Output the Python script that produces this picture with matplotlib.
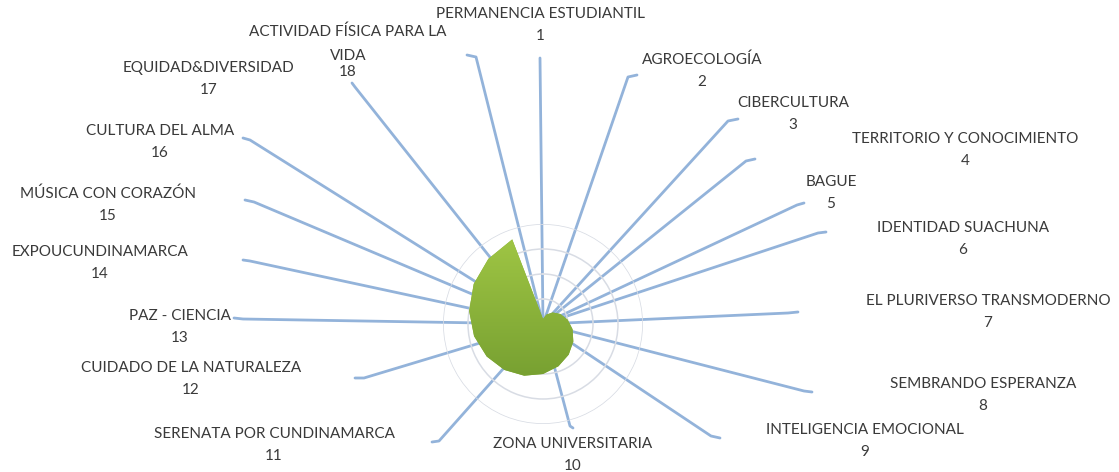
import numpy as np
import matplotlib
matplotlib.use("Agg")
import matplotlib.pyplot as plt
from matplotlib.colors import LinearSegmentedColormap

# categorias del radar, en el orden de las agujas del reloj desde arriba
categorias = [
    "PERMANENCIA ESTUDIANTIL", "AGROECOLOGÍA", "CIBERCULTURA",
    "TERRITORIO Y CONOCIMIENTO", "BAGUE", "IDENTIDAD SUACHUNA",
    "EL PLURIVERSO TRANSMODERNO", "SEMBRANDO ESPERANZA",
    "INTELIGENCIA EMOCIONAL", "ZONA UNIVERSITARIA",
    "SERENATA POR CUNDINAMARCA", "CUIDADO DE LA NATURALEZA",
    "PAZ - CIENCIA", "EXPOUCUNDINAMARCA", "MÚSICA CON CORAZÓN",
    "CULTURA DEL ALMA", "EQUIDAD&DIVERSIDAD",
    "ACTIVIDAD FÍSICA PARA LA\nVIDA",
]
numeros = ["1", "2", "3", "4", "5", "6", "7", "8", "9",
           "10", "11", "12", "13", "14", "15", "16", "17", "18"]
valores = [1, 2, 3, 4, 5, 6, 7, 8, 9, 10, 11, 12, 13, 14, 15, 16, 17, 18]
radio_max = 20
anillos = [5, 10, 15, 20]

# layout (pixels, y from the top of the image)
W, H = 1119, 472
centro = (543, 324)
radio_px = 100
pos_nombre = [
    (540, 14), (702, 60), (793, 103), (965, 139), (831, 182), (963, 228),
    (988, 301), (983, 384), (865, 430), (573, 444), (274, 434), (191, 368),
    (180, 316), (100, 252), (108, 194), (160, 131), (209, 68), (348, 32),
]
fin_linea = [
    (540, 58), (628, 77), (728, 121), (746, 161), (797, 205), (818, 233),
    (788, 313), (804, 391), (711, 436), (570, 426), (439, 441), (364, 378),
    (243, 319), (250, 261), (254, 202), (250, 140), (355, 87), (476, 57),
]
gancho = [
    (540, 58), (637, 75), (738, 119), (755, 159), (804, 203), (826, 232),
    (798, 312), (812, 392), (720, 438), (573, 428), (432, 442), (355, 378),
    (234, 318), (243, 260), (245, 200), (243, 138), (352, 83), (467, 55),
]

color_texto = "#3A3A3A"
color_linea = "#93B3DA"
fuente = "Lato"
tam = 11

fig = plt.figure(figsize=(W / 100, H / 100), dpi=100)
fig.patch.set_facecolor("white")

# fondo: lineas guia y etiquetas
fondo = fig.add_axes([0, 0, 1, 1])
fondo.set_xlim(0, W)
fondo.set_ylim(H, 0)
fondo.axis("off")

for i in range(len(categorias)):
    fondo.plot([centro[0], fin_linea[i][0], gancho[i][0]],
               [centro[1], fin_linea[i][1], gancho[i][1]],
               color=color_linea, lw=2.0, solid_capstyle="round",
               solid_joinstyle="round")
    x, y = pos_nombre[i]
    lineas = categorias[i].split("\n")
    for j, t in enumerate(lineas):
        fondo.text(x, y + 24 * j, t, ha="center", va="center",
                   fontsize=tam, color=color_texto, family=fuente)
    fondo.text(x, y + 22 * len(lineas) - (4 if len(lineas) > 1 else 0),
               numeros[i], ha="center", va="center",
               fontsize=tam, color=color_texto, family=fuente)

# radar
rect = [(centro[0] - radio_px) / W, (H - centro[1] - radio_px) / H,
        2 * radio_px / W, 2 * radio_px / H]
ax = fig.add_axes(rect, projection="polar")
ax.set_theta_zero_location("N")
ax.set_theta_direction(-1)
ax.patch.set_alpha(0)
theta = np.arange(len(valores)) * 2 * np.pi / len(valores)
ax.set_ylim(0, radio_max)
ax.set_yticks(anillos)
ax.set_yticklabels([])
ax.set_xticks(theta)
ax.set_xticklabels([])
ax.tick_params(length=0)
ax.xaxis.grid(False)
ax.yaxis.grid(True, color="#D8DCE4", lw=1.1)
ax.spines["polar"].set_visible(False)

th = np.append(theta, theta[0])
vv = np.append(valores, valores[0])
poly = ax.fill(th, vv, color="#86AE36", lw=0, zorder=3)[0]

# degradado verde dentro del area
capa = fig.add_axes(rect)
capa.set_xlim(0, 1)
capa.set_ylim(0, 1)
capa.axis("off")
verde = LinearSegmentedColormap.from_list("verde", ["#6A942B", "#A3C946"])
grad = np.linspace(0, 1, 256).reshape(-1, 1)
im = capa.imshow(grad, extent=[0, 1, 0, 1], origin="lower", aspect="auto",
                 cmap=verde)
im.set_clip_path(poly)

fig.savefig("out.png", dpi=100)
